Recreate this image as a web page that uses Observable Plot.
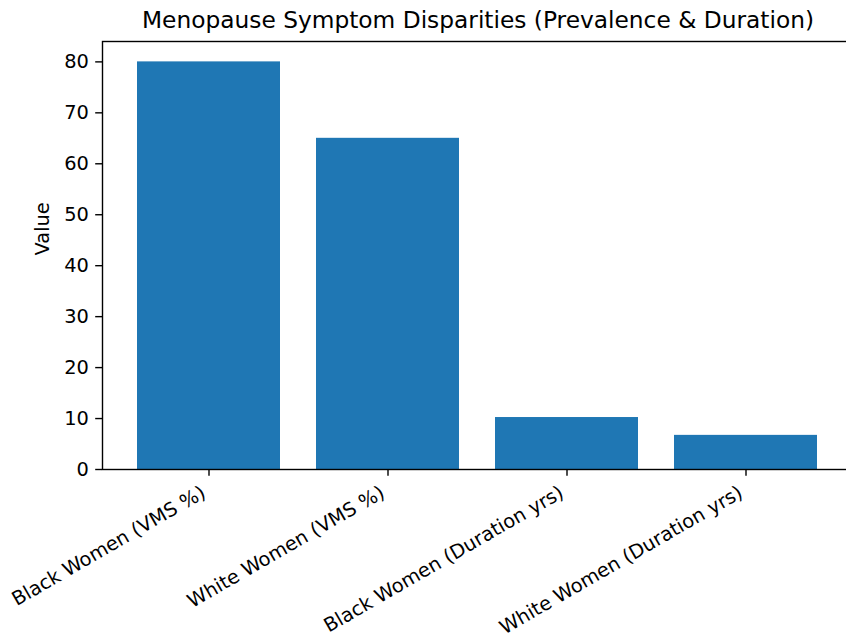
<!DOCTYPE html>
<html>
<head>
<meta charset="utf-8">
<script src="https://cdn.jsdelivr.net/npm/d3@7"></script>
<script src="https://cdn.jsdelivr.net/npm/@observablehq/plot@0.6"></script>
<style>
  html, body { margin: 0; padding: 0; background: white; overflow: hidden; }
  #chart { width: 846px; height: 639px; overflow: hidden; }
  #chart svg { max-width: none; }
</style>
</head>
<body>
<div id="chart"></div>
<script>
const categories = [
  "Black Women (VMS %)",
  "White Women (VMS %)",
  "Black Women (Duration yrs)",
  "White Women (Duration yrs)"
];
const values = [80, 65, 10.2, 6.7];
const yTicks = [0, 10, 20, 30, 40, 50, 60, 70, 80];
const titleText = "Menopause Symptom Disparities (Prevalence & Duration)";
const yLabel = "Value";

const data = categories.map((c, i) => ({cat: c, value: values[i]}));
const font = "DejaVu Sans, sans-serif";

const chart = Plot.plot({
  width: 860,
  height: 639,
  marginLeft: 102,
  marginRight: 7,
  marginTop: 41,
  marginBottom: 170,
  style: {fontFamily: font, fontSize: "19.4px", color: "black", background: "white"},
  x: {domain: categories, paddingInner: 0.2, paddingOuter: 0.19, axis: null},
  y: {domain: [0, 84], axis: null},
  marks: [
    Plot.barY(data, {x: "cat", y: "value", fill: "#1f77b4"}),
    Plot.axisY({ticks: yTicks, tickSize: 6.8, tickPadding: 6.8, fontSize: 19.4, label: null, stroke: "black", strokeWidth: 1.4, fill: "black"}),
    Plot.axisX({ticks: categories, tickSize: 6.8, tickFormat: () => "", label: null, stroke: "black", strokeWidth: 1.4}),
    Plot.text(categories, {x: d => d, frameAnchor: "bottom", rotate: -30, textAnchor: "end", lineAnchor: "middle", dx: -5, dy: 21.5, fontSize: 19.4, fill: "black"}),
    Plot.frame({stroke: "black", strokeWidth: 1.4}),
    Plot.text([titleText], {frameAnchor: "top", lineAnchor: "bottom", dy: -14, fontSize: 23.3, fill: "black"}),
    Plot.text([yLabel], {frameAnchor: "left", rotate: -90, dx: -60, fontSize: 19.4, fill: "black"})
  ]
});
document.getElementById("chart").appendChild(chart);
</script>
</body>
</html>
